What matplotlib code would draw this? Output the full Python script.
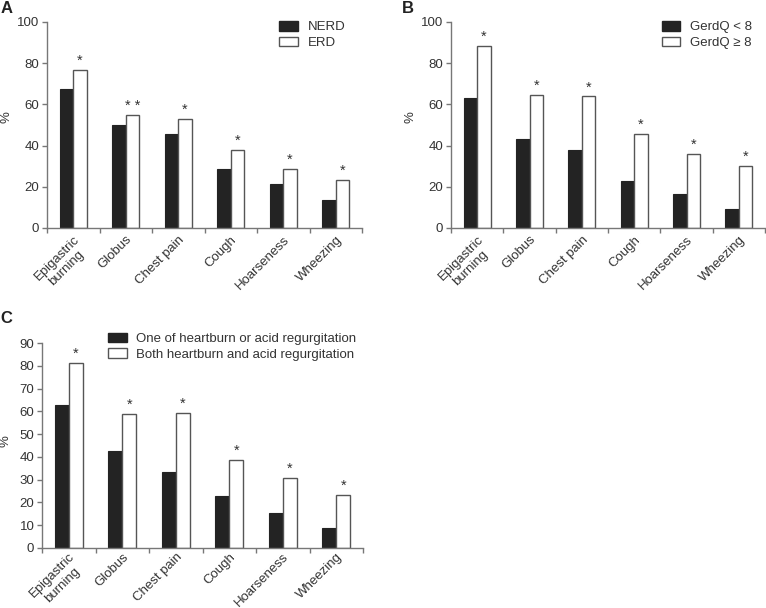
import numpy as np
import matplotlib.pyplot as plt
from matplotlib.patches import Patch

plt.rcParams['font.family'] = ['Liberation Sans', 'DejaVu Sans']

categories = ["Epigastric\nburning", "Globus", "Chest pain", "Cough", "Hoarseness", "Wheezing"]

# panel A
nerd = [67.6, 49.8, 45.5, 28.8, 21.4, 13.4]
erd = [76.9, 54.9, 53.1, 37.7, 28.6, 23.3]
stars_a = ["*", "* *", "*", "*", "*", "*"]

# panel B
gerdq_lo = [62.9, 43.4, 37.9, 22.8, 16.3, 9.1]
gerdq_hi = [88.3, 64.4, 63.9, 45.8, 35.9, 30.1]
stars_b = ["*"] * 6

# panel C
one_sym = [62.6, 42.4, 33.5, 22.9, 15.2, 9.0]
both_sym = [81.2, 58.8, 59.4, 38.7, 30.8, 23.3]
stars_c = ["*"] * 6

dark = '#232323'
edge = '#555555'
spine = '#777777'
txt = '#333333'

fig = plt.figure(figsize=(7.66, 6.08), dpi=100)


def panel(rect, v1, v2, stars, labels, ymax, ystep, leg_anchor, ylab_xy, xpad=4):
    ax = fig.add_axes(rect)
    x = np.arange(len(categories))
    w = 0.26
    ax.bar(x - w / 2, v1, w, color=dark, edgecolor=dark, linewidth=0.8)
    ax.bar(x + w / 2, v2, w, color='white', edgecolor=edge, linewidth=1.0)
    for xi, v, s in zip(x, v2, stars):
        ax.text(xi + w / 2, v + ymax * 0.01, s, ha='center', va='bottom',
                fontsize=10.5, color=txt)
    ax.set_xlim(-0.5, len(categories) - 0.5)
    ax.set_ylim(0, ymax)
    ax.set_yticks(np.arange(0, ymax + 1, ystep))
    ax.set_xticks(np.arange(len(categories) + 1) - 0.5)
    ax.set_xticklabels([])
    ax.set_xticks(x, minor=True)
    ax.set_xticklabels(categories, minor=True, rotation=45, ha='right',
                       rotation_mode='anchor', fontsize=9.5, color=txt,
                       multialignment='center')
    ax.tick_params(axis='x', which='minor', length=0, pad=xpad)
    ax.tick_params(axis='x', which='major', length=3.5, width=1, color=spine)
    ax.tick_params(axis='y', length=3.5, width=1, color=spine,
                   labelsize=9.5, labelcolor=txt, pad=2)
    for s in ['top', 'right']:
        ax.spines[s].set_visible(False)
    for s in ['left', 'bottom']:
        ax.spines[s].set_color(spine)
        ax.spines[s].set_linewidth(1)
    ax.set_ylabel("%", fontsize=9.5, color=txt)
    ax.yaxis.set_label_coords(*ylab_xy)
    handles = [Patch(facecolor=dark, edgecolor=dark),
               Patch(facecolor='white', edgecolor=edge)]
    ax.legend(handles, labels, loc='upper left', bbox_to_anchor=leg_anchor,
              frameon=False, fontsize=9.5, handlelength=1.4, handleheight=0.75,
              handletextpad=0.75, labelspacing=0.25, borderpad=0,
              borderaxespad=0, labelcolor=txt)
    return ax


panel([47 / 766, 1 - 228 / 608, 315 / 766, 206 / 608], nerd, erd, stars_a,
      ["NERD", "ERD"], 100, 20, (0.737, 1.005), (-0.11, 0.54))
panel([451 / 766, 1 - 228 / 608, 314 / 766, 206 / 608], gerdq_lo, gerdq_hi, stars_b,
      ["GerdQ < 8", "GerdQ \u2265 8"], 100, 20, (0.672, 1.005), (-0.11, 0.54))
panel([42 / 766, 1 - 548 / 608, 321 / 766, 205 / 608], one_sym, both_sym, stars_c,
      ["One of heartburn or acid regurgitation",
       "Both heartburn and acid regurgitation"],
      90, 10, (0.206, 1.05), (-0.095, 0.52), xpad=2)

fig.text(0.001, 0.998, "A", fontsize=12, fontweight='bold', va='top', color='#222222')
fig.text(402 / 766, 0.998, "B", fontsize=12, fontweight='bold', va='top', color='#222222')
fig.text(0.001, 1 - 311 / 608, "C", fontsize=12, fontweight='bold', va='top', color='#222222')

fig.savefig("out.png", dpi=100)
